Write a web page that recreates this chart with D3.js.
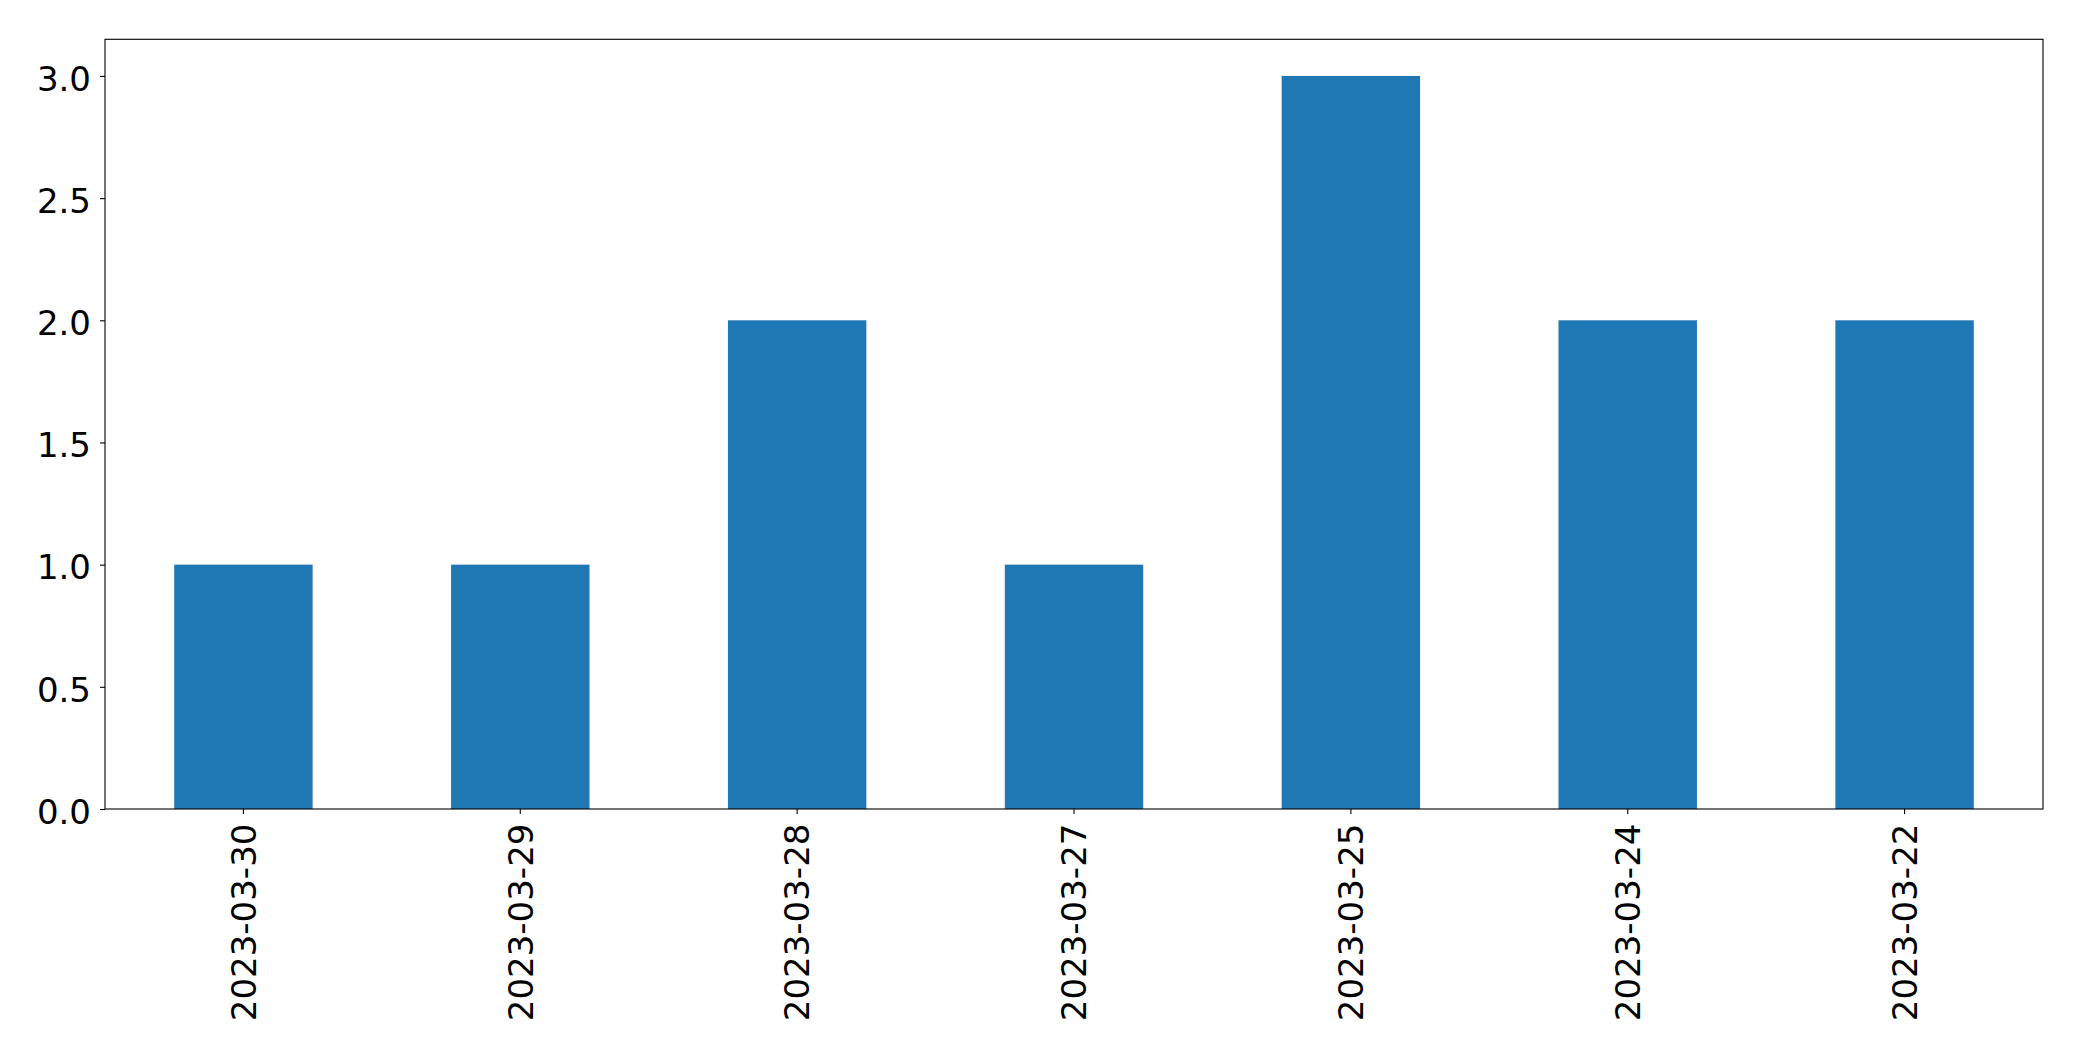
<!DOCTYPE html>
<html>
<head>
<meta charset="utf-8">
<script src="https://cdn.jsdelivr.net/npm/d3@7"></script>
<style>
  html, body { margin: 0; padding: 0; background: #ffffff; }
  svg { display: block; }
  text { font-family: "DejaVu Sans", sans-serif; fill: #000; }
</style>
</head>
<body>
<svg id="chart" width="2082" height="1061"></svg>
<script>
const categories = ["2023-03-30", "2023-03-29", "2023-03-28", "2023-03-27", "2023-03-25", "2023-03-24", "2023-03-22"];
const values = [1, 1, 2, 1, 3, 2, 2];
const yTicks = [0, 0.5, 1.0, 1.5, 2.0, 2.5, 3.0];

(function () {
const W = 2082, H = 1061;
const mLeft = 105, mRight = 2043, mTop = 39.3, mBottom = 809;
const fontSize = 34;
const barColor = "#1f77b4";

const svg = d3.select("#chart");
svg.append("rect").attr("x", 0).attr("y", 0).attr("width", W).attr("height", H).attr("fill", "#fff");

const x = d3.scaleBand().domain(categories).range([mLeft, mRight]).paddingInner(0.5).paddingOuter(0.25);
const y = d3.scaleLinear().domain([0, 3.15]).range([mBottom, mTop]);

// bars
svg.append("g").selectAll("rect").data(categories).join("rect")
  .attr("x", d => x(d))
  .attr("width", x.bandwidth())
  .attr("y", (d, i) => y(values[i]))
  .attr("height", (d, i) => y(0) - y(values[i]))
  .attr("fill", barColor);

// y axis
const yAxis = d3.axisLeft(y).tickValues(yTicks).tickFormat(d3.format(".1f")).tickSize(5).tickPadding(9);
const gy = svg.append("g").attr("transform", `translate(${mLeft},0)`).call(yAxis);
gy.select(".domain").remove();
gy.selectAll(".tick line").attr("stroke", "#000").attr("stroke-width", 1.1);
gy.selectAll(".tick text")
  .attr("font-size", fontSize)
  .attr("font-family", "DejaVu Sans, sans-serif")
  .attr("fill", "#000")
  .attr("dy", "0.42em");

// x axis
const xAxis = d3.axisBottom(x).tickSize(5).tickPadding(10);
const gx = svg.append("g").attr("transform", `translate(0,${mBottom})`).call(xAxis);
gx.select(".domain").remove();
gx.selectAll(".tick line").attr("stroke", "#000").attr("stroke-width", 1.1);
gx.selectAll(".tick text")
  .attr("font-size", fontSize)
  .attr("font-family", "DejaVu Sans, sans-serif")
  .attr("fill", "#000")
  .attr("text-anchor", "end")
  .attr("transform", "rotate(-90)")
  .attr("x", -14.6)
  .attr("y", 0)
  .attr("dy", "0.36em");

// frame (spines)
svg.append("rect")
  .attr("x", mLeft).attr("y", mTop)
  .attr("width", mRight - mLeft).attr("height", mBottom - mTop)
  .attr("fill", "none").attr("stroke", "#000").attr("stroke-width", 1.1);
})();
</script>
</body>
</html>
